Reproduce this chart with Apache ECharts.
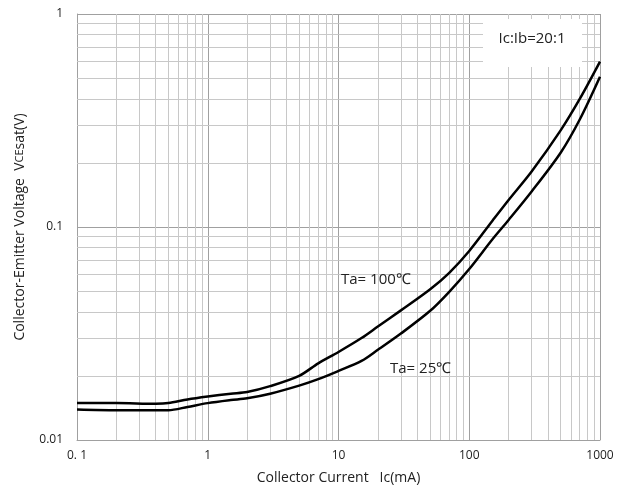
<!DOCTYPE html>
<html>
<head>
<meta charset="utf-8">
<script src="https://cdn.jsdelivr.net/npm/echarts@6/dist/echarts.min.js"></script>
<style>
html,body{margin:0;padding:0;background:#fff;}
#chart{width:617px;height:492px;}
</style>
</head>
<body>
<div id="chart"></div>
<script>
// Collector current Ic (mA)
const currentMA = [0.1, 0.2, 0.4, 0.5, 0.7, 1, 1.5, 2, 3, 5, 7, 10, 15, 20, 30, 50, 70, 100, 150, 200, 300, 500, 700, 1000];
// VCEsat (V), Ta = 100 degC (upper curve)
const vce100 = [0.0149, 0.0149, 0.0148, 0.0149, 0.0155, 0.0160, 0.0165, 0.0168, 0.0179, 0.0200, 0.0229, 0.0259, 0.0301, 0.0341, 0.0406, 0.0509, 0.0608, 0.0772, 0.1067, 0.1339, 0.1822, 0.2841, 0.3990, 0.5973];
// VCEsat (V), Ta = 25 degC (lower curve)
const vce25 = [0.0139, 0.0138, 0.0138, 0.0138, 0.0143, 0.0149, 0.0154, 0.0157, 0.0165, 0.0180, 0.0193, 0.0211, 0.0235, 0.0265, 0.0316, 0.0403, 0.0495, 0.0635, 0.0874, 0.1079, 0.1468, 0.2233, 0.3197, 0.5077];

const xTickLabels = {0.1: '0. 1', 1: '1', 10: '10', 100: '100', 1000: '1000'};
const yTickLabels = {0.01: '0.01', 0.1: '0.1', 1: '1'};

const xDecades = [0.1, 1, 10, 100];
const yDecades = [0.01, 0.1];
const minorSteps = [2, 3, 4, 5, 6, 7, 8, 9];

const xMinor = [];
xDecades.forEach(d => minorSteps.forEach(m => xMinor.push(+(d * m).toPrecision(3))));
const yMinor = [];
yDecades.forEach(d => minorSteps.forEach(m => yMinor.push(+(d * m).toPrecision(3))));

const chart = echarts.init(document.getElementById('chart'), null, {renderer: 'canvas'});
const FONT = 'Open Sans';
const pairs = arr => currentMA.map((x, i) => [x, arr[i]]);

chart.setOption({
  animation: false,
  backgroundColor: '#fff',
  grid: {left: 77, right: 17, top: 14, bottom: 52},
  xAxis: {
    type: 'log', logBase: 10, min: 0.1, max: 1000,
    axisLine: {show: true, lineStyle: {color: '#a0a0a0', width: 1}},
    axisTick: {show: false},
    axisLabel: {
      margin: 10, color: '#222', fontFamily: FONT, fontSize: 12,
      formatter: v => xTickLabels[+v.toPrecision(3)] !== undefined ? xTickLabels[+v.toPrecision(3)] : ''
    },
    splitLine: {show: true, lineStyle: {color: '#a0a0a0', width: 1}},
    name: 'Collector Current   Ic(mA)',
    nameLocation: 'middle', nameGap: 31,
    nameTextStyle: {color: '#222', fontFamily: FONT, fontSize: 14}
  },
  yAxis: {
    type: 'log', logBase: 10, min: 0.01, max: 1,
    axisLine: {show: true, lineStyle: {color: '#a0a0a0', width: 1}},
    axisTick: {show: false},
    axisLabel: {
      margin: 14, color: '#222', fontFamily: FONT, fontSize: 12,
      formatter: v => yTickLabels[+v.toPrecision(3)] !== undefined ? yTickLabels[+v.toPrecision(3)] : ''
    },
    splitLine: {show: true, lineStyle: {color: '#a0a0a0', width: 1}},
    name: '{n|Collector-Emitter Voltage  V}{s|CE}{n|sat(V)}',
    nameLocation: 'middle', nameGap: 50, nameRotate: 90,
    nameTextStyle: {
      color: '#222', fontFamily: FONT, fontSize: 14,
      rich: {
        n: {color: '#222', fontFamily: FONT, fontSize: 14},
        s: {color: '#222', fontFamily: FONT, fontSize: 11}
      }
    }
  },
  series: [
    {
      type: 'line', data: [], z: 1, silent: true,
      markLine: {
        silent: true, symbol: ['none', 'none'], animation: false,
        label: {show: false},
        lineStyle: {color: '#c8c8c8', width: 1, type: 'solid'},
        data: xMinor.map(v => ({xAxis: v})).concat(yMinor.map(v => ({yAxis: v})))
      }
    },
    {
      name: 'Ta=100', type: 'line', data: pairs(vce100), smooth: 0.3,
      showSymbol: false, z: 5,
      lineStyle: {color: '#000', width: 2.5}
    },
    {
      name: 'Ta=25', type: 'line', data: pairs(vce25), smooth: 0.3,
      showSymbol: false, z: 5,
      lineStyle: {color: '#000', width: 2.5}
    }
  ],
  graphic: [
    {type: 'rect', z: 100, shape: {x: 483, y: 19, width: 99, height: 48}, style: {fill: '#fff'}},
    {type: 'text', z: 101, x: 532, y: 39, style: {text: 'Ic:Ib=20:1', fill: '#222', font: '15px "Open Sans"', textAlign: 'center', textVerticalAlign: 'middle'}},
    {type: 'text', z: 101, x: 341, y: 280, style: {text: 'Ta= 100℃', fill: '#222', font: '15px "Open Sans"', textAlign: 'left', textVerticalAlign: 'middle'}},
    {type: 'text', z: 101, x: 390, y: 369, style: {text: 'Ta= 25℃', fill: '#222', font: '15px "Open Sans"', textAlign: 'left', textVerticalAlign: 'middle'}}
  ]
});
</script>
</body>
</html>
